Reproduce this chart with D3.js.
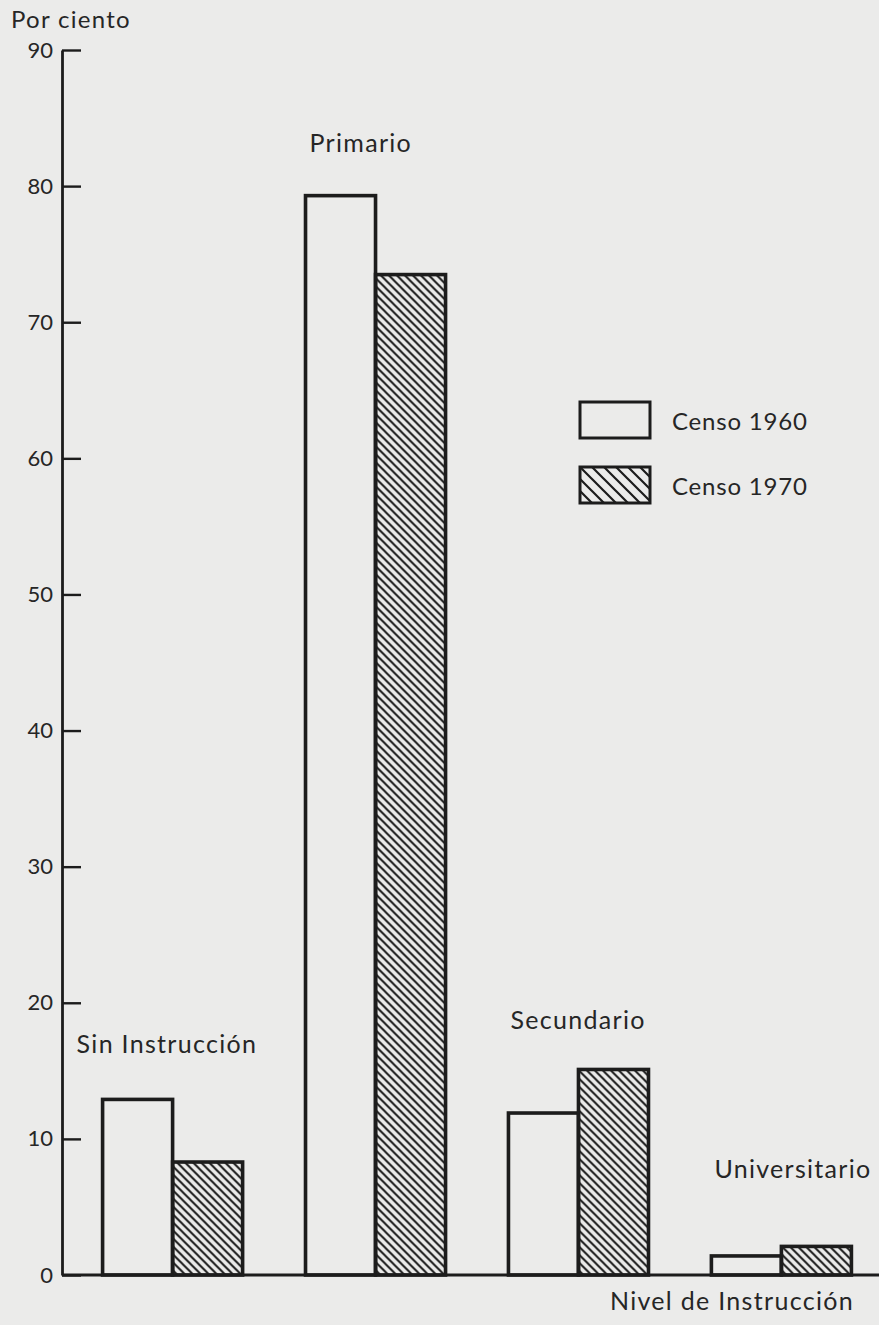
<!DOCTYPE html>
<html>
<head>
<meta charset="utf-8">
<script src="https://cdn.jsdelivr.net/npm/d3@7"></script>
<style>
  body { margin: 0; background: #ebebea; }
  text { font-family: Lato, "Open Sans", sans-serif; fill: #262626; }
</style>
</head>
<body>
<div id="chart"></div>
<script>
// data
var niveles = ["Sin Instrucción", "Primario", "Secundario", "Universitario"];
var censo1960 = [12.9, 79.3, 11.9, 1.4];
var censo1970 = [8.3, 73.5, 15.1, 2.1];
var series = ["Censo 1960", "Censo 1970"];
var yTicks = [0, 10, 20, 30, 40, 50, 60, 70, 80, 90];

var width = 879, height = 1325;
var margin = {top: 50, left: 62, bottom: 50};

var svg = d3.select("#chart").append("svg")
  .attr("width", width)
  .attr("height", height);

var defs = svg.append("defs");
function hatch(id, s, w) {
  var p = defs.append("pattern")
    .attr("id", id)
    .attr("patternUnits", "userSpaceOnUse")
    .attr("width", s).attr("height", s);
  p.append("path")
    .attr("d", `M0,0L${s},${s}M${-s/2},${s/2}L${s/2},${s*1.5}M${s/2},${-s/2}L${s*1.5},${s/2}`)
    .attr("stroke", "#1c1c1c")
    .attr("stroke-width", w);
}
hatch("hatch", 8, 2);
hatch("hatchLegend", 12, 2.2);

var y = d3.scaleLinear()
  .domain([0, 90])
  .range([height - margin.bottom, margin.top]);

var x0 = d3.scaleBand()
  .domain(niveles)
  .range([margin.left, margin.left + 830])
  .paddingInner(0.31)
  .paddingOuter(0.2);

var x1 = d3.scaleBand()
  .domain(series)
  .range([0, x0.bandwidth()]);

var rows = niveles.map((n, i) => ({nivel: n, values: [censo1960[i], censo1970[i]]}));

// bars
var groups = svg.append("g")
  .selectAll("g")
  .data(rows)
  .join("g")
    .attr("transform", d => `translate(${x0(d.nivel)},0)`);

groups.selectAll("rect")
  .data(d => d.values.map((v, j) => ({key: series[j], value: v})))
  .join("rect")
    .attr("x", d => x1(d.key))
    .attr("y", d => y(d.value))
    .attr("width", x1.bandwidth())
    .attr("height", d => y(0) - y(d.value))
    .attr("fill", d => d.key == "Censo 1970" ? "url(#hatch)" : "none")
    .attr("stroke", "#1c1c1c")
    .attr("stroke-width", 3.6);

// category labels
var labelPos = {
  "Sin Instrucción": {dx: -26, v: 16.3},
  "Primario": {dx: 4, v: 82.5},
  "Secundario": {dx: 2, v: 18.1},
  "Universitario": {dx: 3, v: 7.1}
};
groups.append("text")
  .attr("x", d => labelPos[d.nivel].dx)
  .attr("y", d => y(labelPos[d.nivel].v))
  .style("font-size", "25px")
  .style("letter-spacing", "1.3px")
  .text(d => d.nivel);

// y axis
var yAxis = d3.axisLeft(y)
  .tickValues(yTicks)
  .tickSizeInner(-19)
  .tickSizeOuter(0)
  .tickPadding(9);

var ya = svg.append("g")
  .attr("class", "y axis")
  .attr("transform", `translate(${margin.left},0)`)
  .call(yAxis);
ya.select(".domain").attr("stroke", "#1c1c1c").attr("stroke-width", 2.8);
ya.selectAll(".tick line").attr("stroke", "#1c1c1c").attr("stroke-width", 2.4);
ya.selectAll(".tick text")
  .style("font-family", "Lato, sans-serif")
  .style("font-size", "22px")
  .attr("fill", "#262626");

// x axis baseline
svg.append("line")
  .attr("x1", margin.left)
  .attr("x2", width)
  .attr("y1", y(0))
  .attr("y2", y(0))
  .attr("stroke", "#1c1c1c")
  .attr("stroke-width", 2.8);

svg.append("text")
  .attr("x", 11)
  .attr("y", 28)
  .style("font-size", "24px")
  .style("letter-spacing", "1.3px")
  .text("Por ciento");

svg.append("text")
  .attr("x", 610)
  .attr("y", 1310)
  .style("font-size", "25px")
  .style("letter-spacing", "1.3px")
  .text("Nivel de Instrucción");

// legend
var legend = svg.append("g")
  .attr("transform", "translate(580,402)")
  .selectAll("g")
  .data(series)
  .join("g")
    .attr("transform", (d, i) => `translate(0,${i * 65})`);

legend.append("rect")
  .attr("width", 70)
  .attr("height", 36)
  .attr("fill", (d, i) => i ? "url(#hatchLegend)" : "none")
  .attr("stroke", "#1c1c1c")
  .attr("stroke-width", 3);

legend.append("text")
  .attr("x", 92)
  .attr("y", 28)
  .style("font-size", "24px")
  .style("letter-spacing", "0.8px")
  .text(d => d);
</script>
</body>
</html>
